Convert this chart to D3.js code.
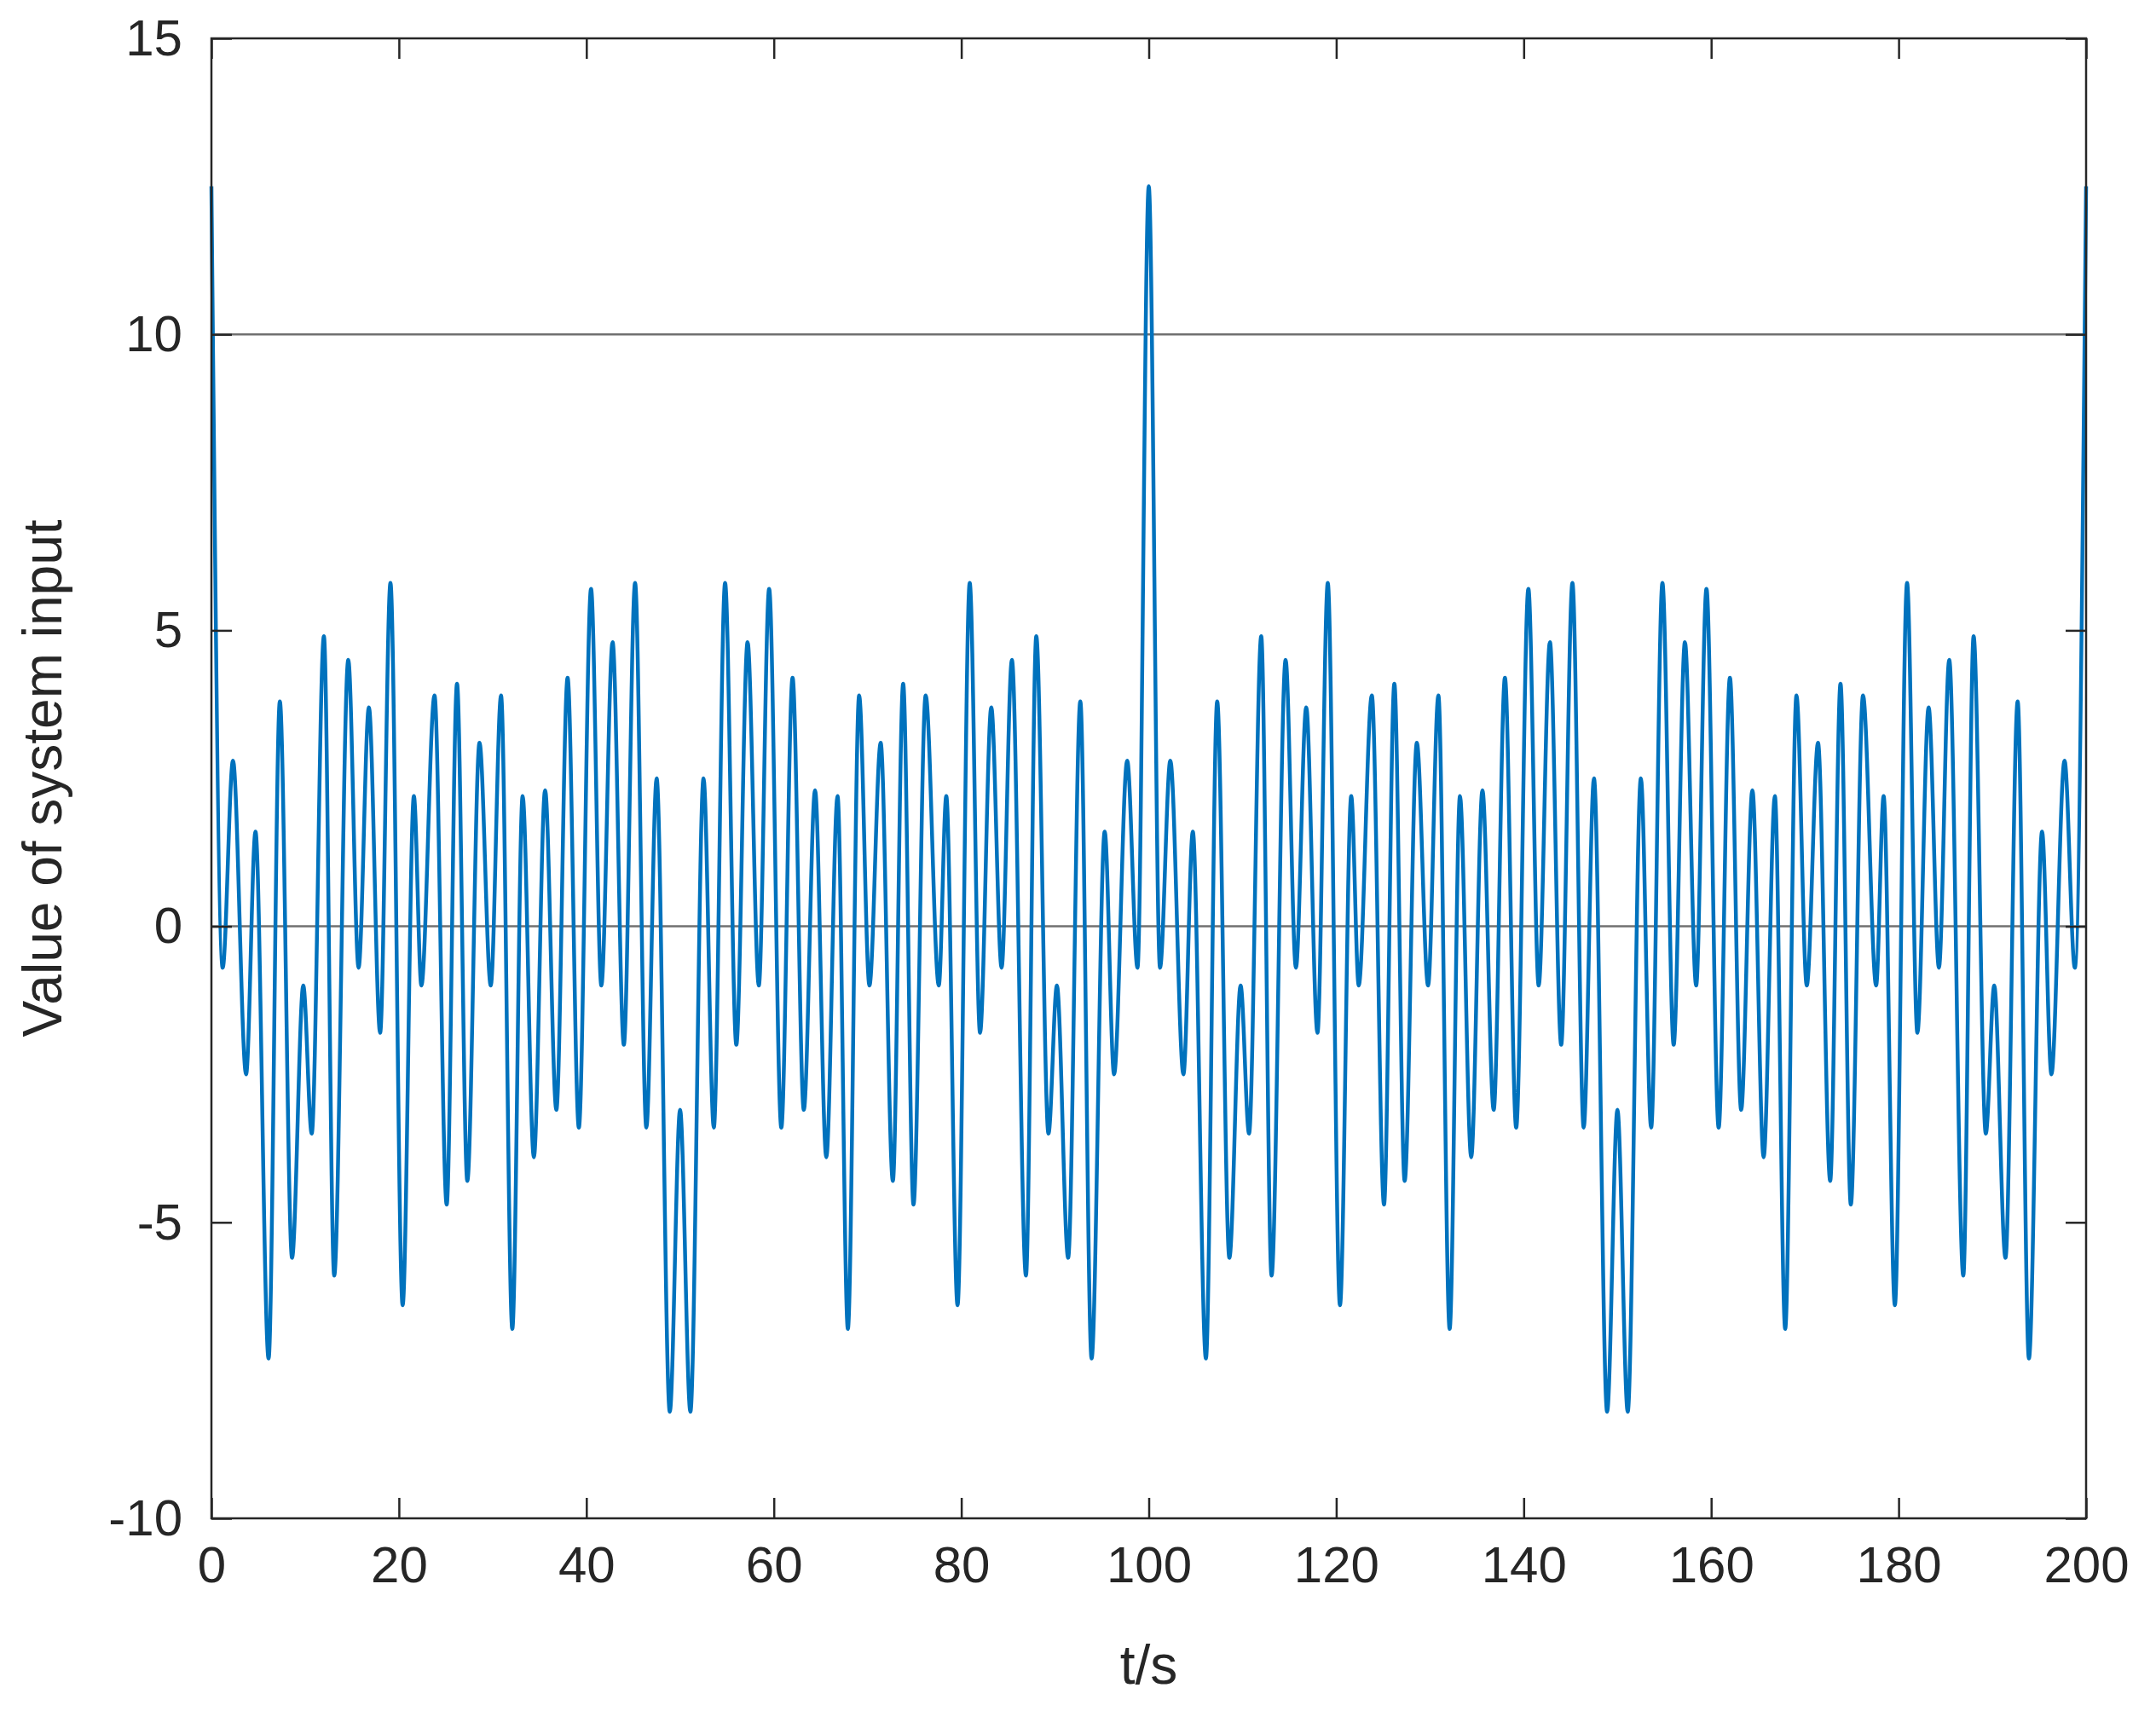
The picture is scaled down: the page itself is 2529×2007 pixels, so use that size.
<!DOCTYPE html>
<html lang="en">
<head>
<meta charset="UTF-8">
<title>Value of system input</title>
<script src="https://d3js.org/d3.v7.min.js"></script>
<style>
  body { margin: 0; background: #fff; font-family: "Liberation Sans", Arial, sans-serif; }
</style>
</head>
<body>
<div id="chart"></div>
<script>
// extrema of the input signal (t in s, value)
const tKnots = [
  0, 1.2, 2.3, 3.7, 4.7, 6.1, 7.3, 8.6, 9.8, 10.7, 12.0, 13.1, 14.6, 15.7, 16.8, 18.0, 19.1, 20.4, 21.6, 22.4,
  23.8, 25.1, 26.2, 27.3, 28.6, 29.8, 30.9, 32.1, 33.2, 34.4, 35.6, 36.8, 38.0, 39.2, 40.5, 41.6, 42.8, 44.0,
  45.2, 46.4, 47.5, 48.9, 50.0, 51.1, 52.5, 53.6, 54.8, 56.0, 57.2, 58.4, 59.5, 60.8, 62.0, 63.2, 64.4, 65.6,
  66.8, 67.9, 69.1, 70.2, 71.4, 72.7, 73.8, 74.9, 76.2, 77.6, 78.4, 79.6, 80.9, 82.0, 83.2, 84.3, 85.4, 86.9,
  88.0, 89.3, 90.2, 91.4, 92.7, 93.9, 95.3, 96.3, 97.7, 98.8,
  100, 101.2, 102.3, 103.7, 104.7, 106.1, 107.3, 108.6, 109.8, 110.7, 112.0, 113.1, 114.6, 115.7, 116.8, 118.0,
  119.1, 120.4, 121.6, 122.4, 123.8, 125.1, 126.2, 127.3, 128.6, 129.8, 130.9, 132.1, 133.2, 134.4, 135.6,
  136.8, 138.0, 139.2, 140.5, 141.6, 142.8, 144.0, 145.2, 146.4, 147.5, 148.9, 150.0, 151.1, 152.5, 153.6,
  154.8, 156.0, 157.2, 158.4, 159.5, 160.8, 162.0, 163.2, 164.4, 165.6, 166.8, 167.9, 169.1, 170.2, 171.4,
  172.7, 173.8, 174.9, 176.2, 177.6, 178.4, 179.6, 180.9, 182.0, 183.2, 184.3, 185.4, 186.9, 188.0, 189.3,
  190.2, 191.4, 192.7, 193.9, 195.3, 196.3, 197.7, 198.8, 200
];
const vKnots = [
  12.5, -0.7, 2.8, -2.5, 1.6, -7.3, 3.8, -5.6, -1.0, -3.5, 4.9, -5.9, 4.5, -0.7, 3.7, -1.8, 5.8, -6.4, 2.2, -1.0,
  3.9, -4.7, 4.1, -4.3, 3.1, -1.0, 3.9, -6.8, 2.2, -3.9, 2.3, -3.1, 4.2, -3.4, 5.7, -1.0, 4.8, -2.0,
  5.8, -3.4, 2.5, -8.2, -3.1, -8.2, 2.5, -3.4, 5.8, -2.0, 4.8, -1.0, 5.7, -3.4, 4.2, -3.1, 2.3, -3.9,
  2.2, -6.8, 3.9, -1.0, 3.1, -4.3, 4.1, -4.7, 3.9, -1.0, 2.2, -6.4, 5.8, -1.8, 3.7, -0.7, 4.5, -5.9,
  4.9, -3.5, -1.0, -5.6, 3.8, -7.3, 1.6, -2.5, 2.8, -0.7,
  12.5, -0.7, 2.8, -2.5, 1.6, -7.3, 3.8, -5.6, -1.0, -3.5, 4.9, -5.9, 4.5, -0.7, 3.7, -1.8,
  5.8, -6.4, 2.2, -1.0, 3.9, -4.7, 4.1, -4.3, 3.1, -1.0, 3.9, -6.8, 2.2, -3.9, 2.3,
  -3.1, 4.2, -3.4, 5.7, -1.0, 4.8, -2.0, 5.8, -3.4, 2.5, -8.2, -3.1, -8.2, 2.5, -3.4,
  5.8, -2.0, 4.8, -1.0, 5.7, -3.4, 4.2, -3.1, 2.3, -3.9, 2.2, -6.8, 3.9, -1.0, 3.1,
  -4.3, 4.1, -4.7, 3.9, -1.0, 2.2, -6.4, 5.8, -1.8, 3.7, -0.7, 4.5, -5.9, 4.9, -3.5,
  -1.0, -5.6, 3.8, -7.3, 1.6, -2.5, 2.8, -0.7, 12.5
];
const xTicks = [0, 20, 40, 60, 80, 100, 120, 140, 160, 180, 200];
const yTicks = [-10, -5, 0, 5, 10, 15];
const refLines = [0, 10];

const W = 2529, H = 2007;
const margin = { top: 45, right: 82, bottom: 226, left: 248 };
const w = W - margin.left - margin.right;
const h = H - margin.top - margin.bottom;

const svg = d3.select('#chart').append('svg')
  .attr('width', W).attr('height', H);
const g = svg.append('g').attr('transform', `translate(${margin.left},${margin.top})`);

const x = d3.scaleLinear().domain([0, 200]).range([0, w]);
const y = d3.scaleLinear().domain([-10, 15]).range([h, 0]);

// reference lines
g.selectAll('.ref').data(refLines).enter().append('line')
  .attr('x1', 0).attr('x2', w)
  .attr('y1', d => y(d)).attr('y2', d => y(d))
  .attr('stroke', '#707070').attr('stroke-width', 2.5);

const data = tKnots.map((t, i) => ({ t, v: vKnots[i] }));
const line = d3.line().x(d => x(d.t)).y(d => y(d.v)).curve(d3.curveMonotoneX);
g.append('path').datum(data)
  .attr('d', line)
  .attr('fill', 'none')
  .attr('stroke', '#0072BD')
  .attr('stroke-width', 4.5);

// axes with inward ticks on all sides
const tl = 24;
const styleAxis = sel => {
  sel.select('.domain').remove();
  sel.selectAll('line').attr('stroke', '#262626').attr('stroke-width', 2.5);
  sel.selectAll('text').attr('fill', '#262626').style('font-size', '60px')
    .style('font-family', '"Liberation Sans", Arial, sans-serif');
};
g.append('g').attr('transform', `translate(0,${h})`)
  .call(d3.axisBottom(x).tickValues(xTicks).tickSize(-tl).tickPadding(tl + 8).tickFormat(String))
  .call(styleAxis);
g.append('g')
  .call(d3.axisLeft(y).tickValues(yTicks).tickSize(-tl).tickPadding(tl + 10).tickFormat(String))
  .call(styleAxis);
g.append('g')
  .call(d3.axisTop(x).tickValues(xTicks).tickSize(-tl).tickFormat(''))
  .call(styleAxis);
g.append('g').attr('transform', `translate(${w},0)`)
  .call(d3.axisRight(y).tickValues(yTicks).tickSize(-tl).tickFormat(''))
  .call(styleAxis);

g.append('rect').attr('width', w).attr('height', h)
  .attr('fill', 'none').attr('stroke', '#262626').attr('stroke-width', 2.5);

// labels
svg.append('text')
  .attr('x', margin.left + w / 2).attr('y', H - 32)
  .attr('text-anchor', 'middle').attr('fill', '#262626')
  .style('font-size', '64px').text('t/s');
svg.append('text')
  .attr('transform', `translate(${72},${margin.top + h / 2}) rotate(-90)`)
  .attr('text-anchor', 'middle').attr('fill', '#262626')
  .style('font-size', '64px').text('Value of system input');
</script>
</body>
</html>
